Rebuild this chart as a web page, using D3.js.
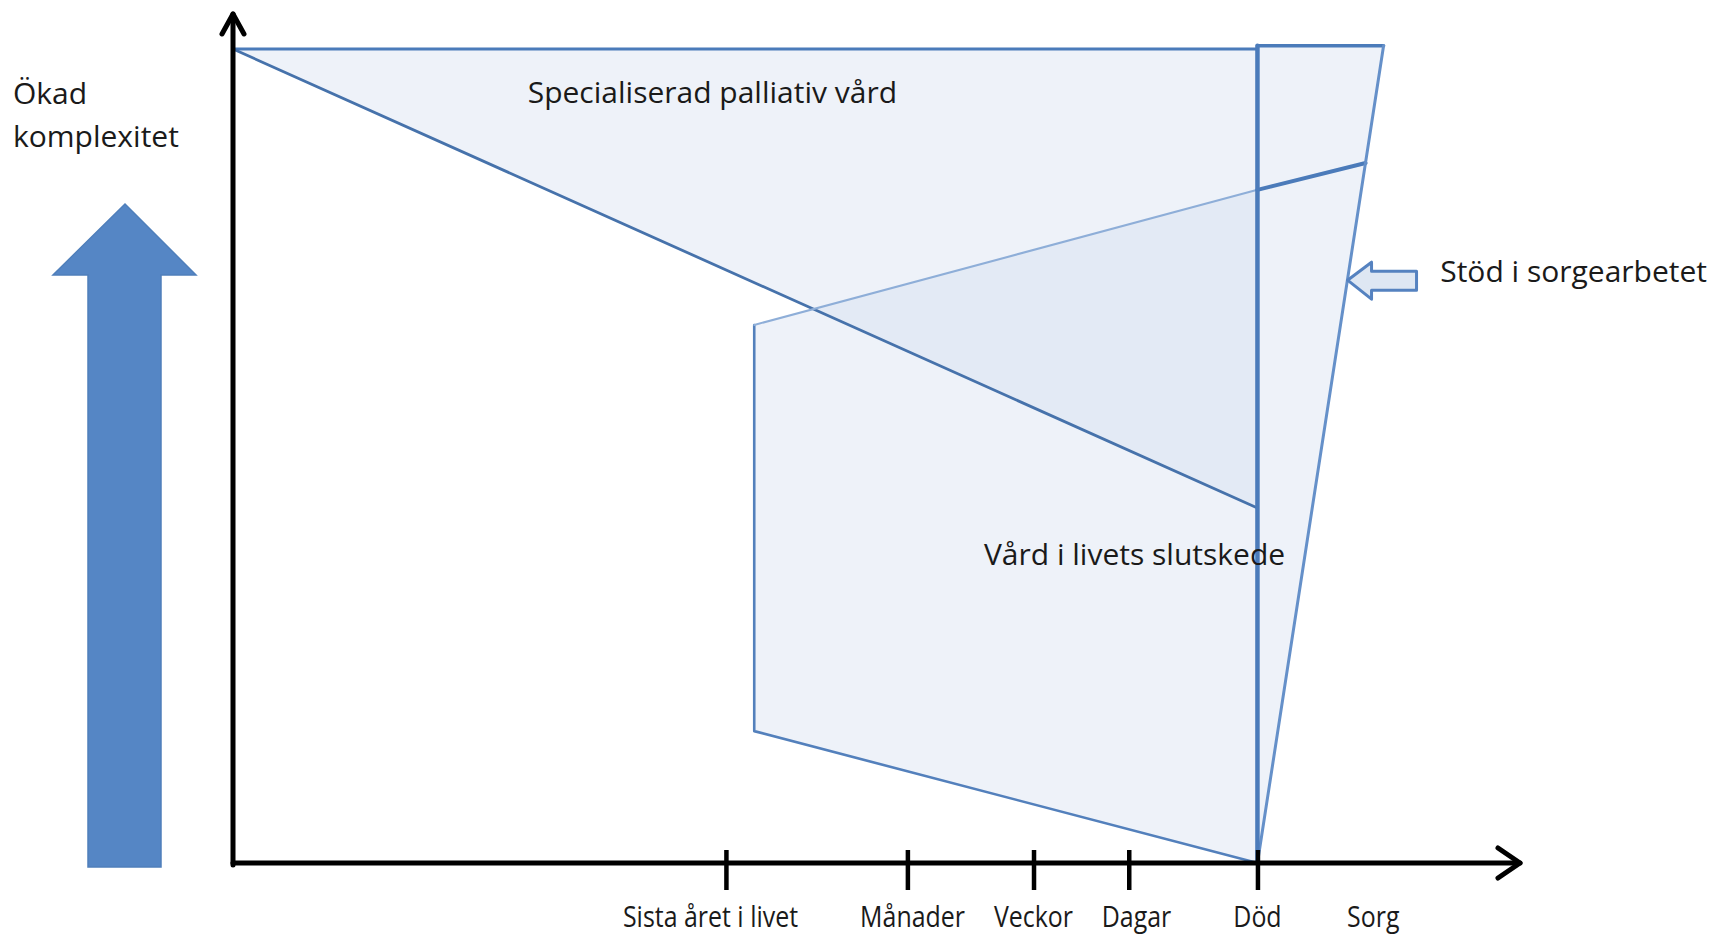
<!DOCTYPE html>
<html>
<head>
<meta charset="utf-8">
<script src="https://cdn.jsdelivr.net/npm/d3@7"></script>
<style>
  html, body { margin: 0; padding: 0; background: #ffffff; }
  svg { display: block; }
  text { font-family: "Open Sans", "Noto Sans", sans-serif; fill: #1a1a1a; }
</style>
</head>
<body>
<svg id="chart" width="1731" height="937"></svg>
<script>
// ---- data (time units along x, complexity along y) ----
const tickLabels    = ["Sista året i livet", "Månader", "Veckor", "Dagar", "Död", "Sorg"];
const tickPositions = [38.3, 52.4, 62.2, 69.6, 79.6];
const labelPositions = [37.1, 52.8, 62.2, 70.2, 79.6, 88.6];

// Specialiserad palliativ vård (triangle)
const specialistX = [0, 79.6, 79.6];
const specialistY = [100, 100, 43.6];

// Stöd i sorgearbetet (bereavement wedge)
const bereavementX = [79.6, 89.4, 79.6];
const bereavementY = [100.4, 100.4, 0];

// Vård i livets slutskede (end-of-life care)
const endOfLifeTopX = [40.5, 79.6, 88.0];
const endOfLifeTopY = [66.1, 82.7, 86.0];
const endOfLifeBottomX = [40.5, 79.6];
const endOfLifeBottomY = [16.2, 0];

// annotation anchors
const labelTexts = ["Specialiserad palliativ vård", "Vård i livets slutskede", "Stöd i sorgearbetet"];
const labelX = [22.9, 58.35, 93.8];
const labelY = [93.4, 36.6, 71.4];
const pointerTip = [86.6, 71.6];

const svg = d3.select("#chart");
const x = d3.scaleLinear().domain([0, 100]).range([233, 1520]);
const y = d3.scaleLinear().domain([0, 100]).range([863, 49]);
const pts = (xs, ys) => xs.map((v, i) => [x(v), y(ys[i])]);
const line = d3.line();

const fillColor = "rgb(210,221,238)";
const fillOpacity = 0.38;
const blue = "#4b7bba";

// ---- fills ----
svg.append("path")
  .attr("d", line(pts(bereavementX, bereavementY)) + "Z")
  .attr("fill", fillColor).attr("fill-opacity", fillOpacity);

svg.append("path")
  .attr("d", line(pts(specialistX, specialistY)) + "Z")
  .attr("fill", fillColor).attr("fill-opacity", fillOpacity);

const eolPoly = [
  [x(endOfLifeBottomX[0]), y(endOfLifeBottomY[0])],
  [x(endOfLifeTopX[0]), y(endOfLifeTopY[0])],
  [x(endOfLifeTopX[1]), y(endOfLifeTopY[1])],
  [x(endOfLifeBottomX[1]), y(endOfLifeBottomY[1])]
];
svg.append("path")
  .attr("d", line(eolPoly) + "Z")
  .attr("fill", fillColor).attr("fill-opacity", fillOpacity);

// ---- outlines ----
const strokeG = svg.append("g").attr("fill", "none")
  .attr("stroke-linejoin", "round").attr("stroke-linecap", "round");

// triangle
strokeG.append("path")
  .attr("d", line([[x(specialistX[0]), y(specialistY[0])], [x(specialistX[1]), y(specialistY[1])]]))
  .attr("stroke", blue).attr("stroke-width", 3);
strokeG.append("path")
  .attr("d", line([[x(specialistX[0]), y(specialistY[0])], [x(specialistX[2]), y(specialistY[2])]]))
  .attr("stroke", "#4672ab").attr("stroke-width", 2.8);

// end of life: left edge + bottom
strokeG.append("path")
  .attr("d", line([[x(endOfLifeTopX[0]), y(endOfLifeTopY[0])],
                   [x(endOfLifeBottomX[0]), y(endOfLifeBottomY[0])],
                   [x(endOfLifeBottomX[1]), y(endOfLifeBottomY[1])]]))
  .attr("stroke", "#5380bc").attr("stroke-width", 2.6);
// thin top
strokeG.append("path")
  .attr("d", line([[x(endOfLifeTopX[0]), y(endOfLifeTopY[0])], [x(endOfLifeTopX[1]), y(endOfLifeTopY[1])]]))
  .attr("stroke", "#8eaed8").attr("stroke-width", 2);
// thick top after death
strokeG.append("path")
  .attr("d", line([[x(endOfLifeTopX[1]), y(endOfLifeTopY[1])], [x(endOfLifeTopX[2]), y(endOfLifeTopY[2])]]))
  .attr("stroke", blue).attr("stroke-width", 4);

// bereavement wedge
strokeG.append("path")
  .attr("d", line([[x(bereavementX[0]), y(bereavementY[0])], [x(bereavementX[1]), y(bereavementY[1])]]))
  .attr("stroke", blue).attr("stroke-width", 3.5);
strokeG.append("path")
  .attr("d", line([[x(bereavementX[1]), y(bereavementY[1])], [x(bereavementX[2]), y(bereavementY[2])]]))
  .attr("stroke", "#6590c9").attr("stroke-width", 3);
// vertical line at death
strokeG.append("path")
  .attr("d", line([[x(bereavementX[0]), y(bereavementY[0])], [x(bereavementX[2]), y(bereavementY[2])]]))
  .attr("stroke", blue).attr("stroke-width", 4.5);

// ---- axes ----
const axisG = svg.append("g").attr("transform", `translate(0,${y(0)})`);
axisG.call(d3.axisBottom(x).tickValues(tickPositions).tickFormat("").tickSize(27).tickSizeOuter(0));
axisG.select(".domain").remove();
axisG.selectAll(".tick line")
  .attr("y1", -13).attr("y2", 27)
  .attr("stroke", "#000").attr("stroke-width", 4.5);

const axisStroke = svg.append("g").attr("fill", "none").attr("stroke", "#000")
  .attr("stroke-width", 5).attr("stroke-linecap", "round").attr("stroke-linejoin", "round");
// x axis with open arrow
axisStroke.append("path").attr("d", line([[x(0), y(0)], [x(100), y(0)]]));
axisStroke.append("path").attr("d", line([[x(100) - 22, y(0) - 15], [x(100), y(0)], [x(100) - 22, y(0) + 15]]));
// y axis with open arrow
const yTop = 14;
axisStroke.append("path").attr("d", line([[x(0), y(0) + 2], [x(0), yTop]]));
axisStroke.append("path").attr("d", line([[x(0) - 11, yTop + 20], [x(0), yTop], [x(0) + 11, yTop + 20]]));

// tick labels (condensed)
svg.append("g").selectAll("text")
  .data(tickLabels)
  .join("text")
  .attr("transform", (d, i) => `translate(${x(labelPositions[i])},${y(0) + 64}) scale(0.86,1)`)
  .attr("text-anchor", "middle")
  .attr("font-size", 29)
  .text(d => d);

// ---- region labels ----
svg.append("g").selectAll("text")
  .data(labelTexts)
  .join("text")
  .attr("x", (d, i) => x(labelX[i]))
  .attr("y", (d, i) => y(labelY[i]))
  .attr("font-size", 30)
  .text(d => d);

// small hollow pointer arrow
const tx = x(pointerTip[0]), ty = y(pointerTip[1]);
svg.append("path")
  .attr("d", line([
    [tx, ty], [tx + 24, ty - 18], [tx + 24, ty - 9], [tx + 69, ty - 9],
    [tx + 69, ty + 10], [tx + 24, ty + 10], [tx + 24, ty + 19]
  ]) + "Z")
  .attr("fill", "#dee7f3").attr("stroke", "#5582c0").attr("stroke-width", 3)
  .attr("stroke-linejoin", "round");

// ---- y axis title + big arrow ----
svg.append("text").attr("x", 13).attr("y", 104).attr("font-size", 30).text("Ökad");
svg.append("text").attr("x", 13).attr("y", 147).attr("font-size", 30).text("komplexitet");

svg.append("path")
  .attr("d", line([
    [125, 204], [196, 275], [161, 275], [161, 867], [88, 867], [88, 275], [53, 275]
  ]) + "Z")
  .attr("fill", "#5586c5").attr("stroke", "#4f7fbb").attr("stroke-width", 1.5);
</script>
</body>
</html>
